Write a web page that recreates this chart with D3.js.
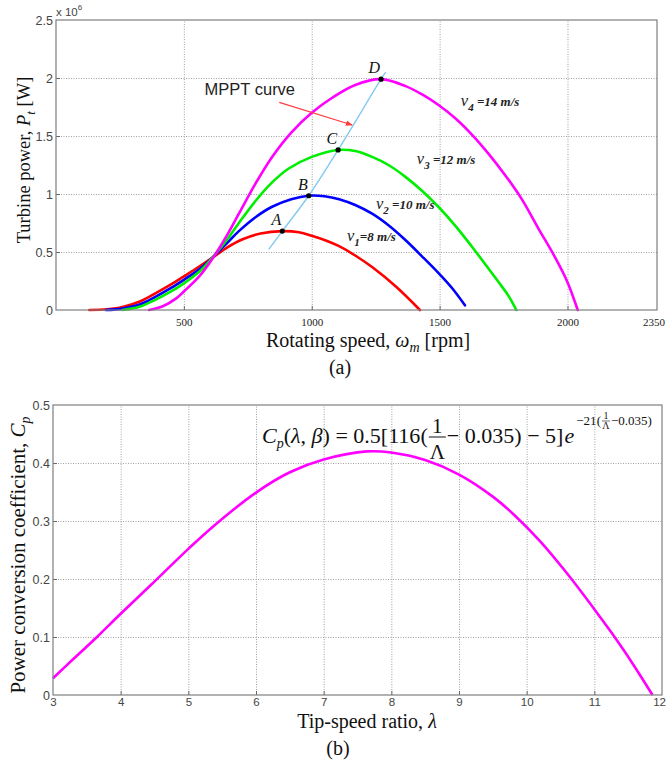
<!DOCTYPE html>
<html>
<head>
<meta charset="utf-8">
<script src="https://cdn.jsdelivr.net/npm/d3@7"></script>
<style>
  body { margin: 0; background: #fff; }
  svg { display: block; }
</style>
</head>
<body>
<script>
// ---------- (a) turbine power [x10^6 W] against rotating speed [rpm] ----------
const speedTicks = [500, 1000, 1500, 2000, 2350];
const powerTicks = [0, 0.5, 1, 1.5, 2, 2.5];

const curveV1 = [[130,0],[200,0.006],[260,0.025],[330,0.075],[390,0.145],[450,0.22],[500,0.29],[560,0.375],[611,0.45],[670,0.54],[730,0.61],[800,0.66],[885,0.68],[950,0.67],[1000,0.64],[1060,0.595],[1107,0.55],[1170,0.47],[1236,0.37],[1330,0.2],[1423,0]];
const curveV2 = [[195,0],[260,0.012],[330,0.05],[390,0.115],[450,0.19],[500,0.26],[560,0.35],[611,0.45],[670,0.58],[715,0.68],[780,0.80],[845,0.89],[920,0.955],[988,0.985],[1050,0.98],[1107,0.955],[1170,0.905],[1236,0.83],[1300,0.73],[1365,0.605],[1430,0.465],[1495,0.32],[1550,0.185],[1599,0.04]];
const curveV3 = [[260,0],[330,0.03],[390,0.09],[450,0.16],[500,0.23],[560,0.33],[611,0.45],[670,0.61],[715,0.75],[780,0.94],[845,1.1],[910,1.22],[1000,1.32],[1103,1.38],[1170,1.37],[1236,1.32],[1300,1.25],[1365,1.15],[1430,1.03],[1495,0.89],[1560,0.73],[1625,0.55],[1680,0.39],[1729,0.245],[1770,0.12],[1800,0]];
const curveV4 = [[364,0],[420,0.035],[470,0.1],[500,0.16],[560,0.29],[611,0.44],[670,0.65],[715,0.83],[780,1.09],[845,1.32],[920,1.53],[1000,1.70],[1080,1.83],[1170,1.94],[1271,1.99],[1367,1.93],[1430,1.86],[1497,1.765],[1560,1.655],[1627,1.51],[1690,1.35],[1757,1.16],[1820,0.96],[1887,0.70],[1950,0.46],[2000,0.24],[2040,0]];
const curveColors = ["#ff0000", "#0000ff", "#00ee00", "#ff00ff"];

// maximum-power operating points A..D and the MPPT trajectory through them
const peakNames = ["A", "B", "C", "D"];
const peakSpeeds = [885, 988, 1103, 1271];
const peakPowers = [0.68, 0.985, 1.38, 1.99];
const mpptCurve = [[832,0.523],[885,0.68],[988,0.985],[1103,1.38],[1271,1.99],[1289,2.05]];

// wind-speed labels: subscript index, value text, anchor (rpm, power)
const windSubs = ["1", "2", "3", "4"];
const windTexts = ["=8 m/s", " =10 m/s", " =12 m/s", " =14 m/s"];
const windLabelAt = [[1138,0.595],[1251,0.87],[1411,1.26],[1583,1.76]];

// MPPT annotation: text anchor and arrow (rpm, power)
const mpptTextAt = [581, 1.85];
const mpptArrow = [[873,1.79],[1158,1.595]];

// ---------- (b) power coefficient against tip-speed ratio ----------
const lambdaTicks = [3,4,5,6,7,8,9,10,11,12];
const cpTicks = [0, 0.1, 0.2, 0.3, 0.4, 0.5];
const lambdaVals = [3, 3.3, 3.65, 4, 4.45, 5, 5.38, 6, 6.5, 7, 7.64, 8, 8.5, 9, 9.5, 9.82, 10.2, 10.56, 11, 11.25, 11.55, 11.86];
const cpVals =     [0.029, 0.062, 0.1, 0.14, 0.19, 0.252, 0.292, 0.349, 0.384, 0.406, 0.42, 0.418, 0.405, 0.38, 0.342, 0.31, 0.265, 0.215, 0.148, 0.108, 0.057, 0];

const W = 666, H = 764;
const SERIF = "'Liberation Serif','Times New Roman',serif";
const SANS = "'Liberation Sans',Arial,sans-serif";
const GRID = "#a0a0a0", FRAME = "#7f7f7f";

const svg = d3.select("body").append("svg")
  .attr("width", W).attr("height", H)
  .attr("viewBox", `0 0 ${W} ${H}`);
svg.append("rect").attr("width", W).attr("height", H).attr("fill", "#fff");

function gridAndFrame(g, x, y, xGrid, yGrid) {
  const [x0, x1] = x.range(), [y0, y1] = y.range();
  g.append("g").attr("transform", `translate(0,${y0})`)
    .call(d3.axisBottom(x).tickValues(xGrid).tickSize(-(y0 - y1)).tickFormat(""))
    .call(s => s.select(".domain").remove())
    .selectAll("line").attr("stroke", GRID).attr("stroke-width", 1).attr("stroke-dasharray", "1,1.5");
  g.append("g").attr("transform", `translate(${x0},0)`)
    .call(d3.axisLeft(y).tickValues(yGrid).tickSize(-(x1 - x0)).tickFormat(""))
    .call(s => s.select(".domain").remove())
    .selectAll("line").attr("stroke", GRID).attr("stroke-width", 1).attr("stroke-dasharray", "1,1.5");
  // short inward ticks along bottom and left edges
  g.append("g").attr("transform", `translate(0,${y0})`)
    .call(d3.axisTop(x).tickValues(xGrid).tickSize(4).tickFormat(""))
    .call(s => s.select(".domain").remove())
    .selectAll("line").attr("stroke", "#666");
  g.append("g").attr("transform", `translate(${x0},0)`)
    .call(d3.axisRight(y).tickValues(yGrid).tickSize(4).tickFormat(""))
    .call(s => s.select(".domain").remove())
    .selectAll("line").attr("stroke", "#666");
}
function frame(g, x, y) {
  const [x0, x1] = x.range(), [y0, y1] = y.range();
  g.append("rect").attr("x", x0).attr("y", y1).attr("width", x1 - x0).attr("height", y0 - y1)
    .attr("fill", "none").attr("stroke", FRAME).attr("stroke-width", 1.2);
}
// keep the last tick label inside the page edge
function pinLastLabel(sel, edge) {
  const texts = sel.selectAll(".tick text").nodes();
  const last = texts[texts.length - 1];
  const tick = last.parentNode;
  const tx = +tick.getAttribute("transform").match(/translate\(([-\d.]+)/)[1];
  d3.select(last).attr("text-anchor", "end").attr("x", edge - tx);
}

// ================= panel (a) =================
const xA = d3.scaleLinear().domain([0, 2350]).range([56, 657]);
const yA = d3.scaleLinear().domain([0, 2.5]).range([310, 20]);
const gA = svg.append("g");
gridAndFrame(gA, xA, yA, [500, 1000, 1500, 2000], [0.5, 1, 1.5, 2]);

const lineA = d3.line().x(d => xA(d[0])).y(d => yA(d[1])).curve(d3.curveCatmullRom.alpha(0.5));
[curveV1, curveV2, curveV3, curveV4].forEach((c, i) => {
  gA.append("path").attr("d", lineA(c)).attr("fill", "none")
    .attr("stroke", curveColors[i]).attr("stroke-width", 2.6).attr("stroke-linecap", "round");
});
gA.append("path").attr("d", lineA(mpptCurve))
  .attr("fill", "none").attr("stroke", "#84c9ef").attr("stroke-width", 1.4);

frame(gA, xA, yA);

peakSpeeds.forEach((s, i) => {
  gA.append("circle").attr("cx", xA(s)).attr("cy", yA(peakPowers[i])).attr("r", 2.6).attr("fill", "#000");
  gA.append("text").attr("x", xA(s) - 1).attr("y", yA(peakPowers[i]) - 6)
    .attr("text-anchor", "end").attr("font-family", SERIF).attr("font-style", "italic")
    .attr("font-size", 16).attr("fill", "#111").text(peakNames[i]);
});

windSubs.forEach((sub, i) => {
  const t = gA.append("text").attr("x", xA(windLabelAt[i][0])).attr("y", yA(windLabelAt[i][1]))
    .attr("font-family", SERIF).attr("font-style", "italic").attr("font-weight", "bold").attr("fill", "#222")
    .attr("xml:space", "preserve");
  t.append("tspan").attr("font-size", 16.5).attr("font-weight", "normal").text("v");
  t.append("tspan").attr("font-size", 11).attr("dy", 5).text(sub);
  t.append("tspan").attr("font-size", 13).attr("dy", -5).text(windTexts[i]);
});

// MPPT annotation with arrow
const defs = svg.append("defs");
defs.append("marker").attr("id", "arrowHead").attr("viewBox", "0 0 10 10")
  .attr("refX", 9).attr("refY", 5).attr("markerWidth", 7).attr("markerHeight", 7)
  .attr("orient", "auto").attr("markerUnits", "userSpaceOnUse")
  .append("path").attr("d", "M0,1 L10,5 L0,9 Z").attr("fill", "#ff3b3b");
gA.append("line")
  .attr("x1", xA(mpptArrow[0][0])).attr("y1", yA(mpptArrow[0][1]))
  .attr("x2", xA(mpptArrow[1][0])).attr("y2", yA(mpptArrow[1][1]))
  .attr("stroke", "#ff3b3b").attr("stroke-width", 1.1).attr("marker-end", "url(#arrowHead)");
gA.append("text").attr("x", xA(mpptTextAt[0])).attr("y", yA(mpptTextAt[1]))
  .attr("font-family", SANS).attr("font-size", 16.5).attr("fill", "#222").text("MPPT curve");

// axes labels (a)
const axA = gA.append("g").attr("transform", "translate(0,310)")
  .call(d3.axisBottom(xA).tickValues(speedTicks).tickSize(0).tickPadding(8).tickFormat(d3.format("d")))
  .call(s => s.select(".domain").remove());
axA.selectAll("text").attr("font-family", SERIF).attr("font-size", 11).attr("fill", "#222");
pinLastLabel(axA, 665);
gA.append("g").attr("transform", "translate(56,0)")
  .call(d3.axisLeft(yA).tickValues(powerTicks).tickSize(0).tickPadding(3).tickFormat(d3.format("~g")))
  .call(s => s.select(".domain").remove())
  .selectAll("text").attr("font-family", SANS).attr("font-size", 12.5).attr("fill", "#444");
const expA = gA.append("text").attr("x", 56).attr("y", 16)
  .attr("font-family", SANS).attr("font-size", 11.5).attr("fill", "#444");
expA.append("tspan").text("x 10");
expA.append("tspan").attr("font-size", 8).attr("dy", -6).text("6");

const xtA = gA.append("text").attr("x", 368).attr("y", 347).attr("text-anchor", "middle")
  .attr("font-family", SERIF).attr("font-size", 20).attr("fill", "#111");
xtA.append("tspan").text("Rotating speed, ");
xtA.append("tspan").attr("font-style", "italic").text("ω");
xtA.append("tspan").attr("font-style", "italic").attr("font-size", 14).attr("dy", 5).text("m");
xtA.append("tspan").attr("dy", -5).text(" [rpm]");

const ytA = gA.append("text").attr("transform", "translate(30,160) rotate(-90)").attr("text-anchor", "middle")
  .attr("font-family", SERIF).attr("font-size", 18.5).attr("fill", "#111");
ytA.append("tspan").text("Turbine power, ");
ytA.append("tspan").attr("font-style", "italic").text("P");
ytA.append("tspan").attr("font-style", "italic").attr("font-size", 13).attr("dy", 5).text("t");
ytA.append("tspan").attr("dy", -5).text(" [W]");

gA.append("text").attr("x", 340).attr("y", 374).attr("text-anchor", "middle")
  .attr("font-family", SERIF).attr("font-size", 20).attr("fill", "#111").text("(a)");

// ================= panel (b) =================
const xB = d3.scaleLinear().domain([3, 12]).range([53, 662]);
const yB = d3.scaleLinear().domain([0, 0.5]).range([695, 405]);
const gB = svg.append("g");
gridAndFrame(gB, xB, yB, [4,5,6,7,8,9,10,11], [0.1, 0.2, 0.3, 0.4]);

const cpPoints = lambdaVals.map((l, i) => [l, cpVals[i]]);
gB.append("path")
  .attr("d", d3.line().x(d => xB(d[0])).y(d => yB(d[1])).curve(d3.curveCatmullRom.alpha(0.5))(cpPoints))
  .attr("fill", "none").attr("stroke", "#ff00ff").attr("stroke-width", 2.6);

frame(gB, xB, yB);

const axB = gB.append("g").attr("transform", "translate(0,695)")
  .call(d3.axisBottom(xB).tickValues(lambdaTicks).tickSize(0).tickPadding(3).tickFormat(d3.format("d")))
  .call(s => s.select(".domain").remove());
axB.selectAll("text").attr("font-family", SANS).attr("font-size", 11.5).attr("fill", "#444");
pinLastLabel(axB, 666);
gB.append("g").attr("transform", "translate(53,0)")
  .call(d3.axisLeft(yB).tickValues(cpTicks).tickSize(0).tickPadding(3).tickFormat(d => d === 0 ? "0" : d3.format(".1f")(d)))
  .call(s => s.select(".domain").remove())
  .selectAll("text").attr("font-family", SANS).attr("font-size", 12.5).attr("fill", "#444");

const xtB = gB.append("text").attr("x", 367).attr("y", 728).attr("text-anchor", "middle")
  .attr("font-family", SERIF).attr("font-size", 20).attr("fill", "#111");
xtB.append("tspan").text("Tip-speed ratio, ");
xtB.append("tspan").attr("font-style", "italic").text("λ");

const ytB = gB.append("text").attr("transform", "translate(25,555) rotate(-90)").attr("text-anchor", "middle")
  .attr("font-family", SERIF).attr("font-size", 21).attr("fill", "#111");
ytB.append("tspan").text("Power conversion coefficient, ");
ytB.append("tspan").attr("font-style", "italic").text("C");
ytB.append("tspan").attr("font-style", "italic").attr("font-size", 14).attr("dy", 5).text("p");

gB.append("text").attr("x", 338).attr("y", 755).attr("text-anchor", "middle")
  .attr("font-family", SERIF).attr("font-size", 20).attr("fill", "#111").text("(b)");

// Cp(λ, β) expression, laid out piece by piece
(function drawFormula() {
  const left = 262, width = 390, base = 443;
  const outer = gB.append("g").attr("transform", `translate(${left},0)`);
  const g = outer.append("g").attr("font-family", SERIF).attr("fill", "#111");
  let x = 0;
  const t1 = g.append("text").attr("x", x).attr("y", base).attr("font-size", 22);
  t1.append("tspan").attr("font-style", "italic").text("C");
  t1.append("tspan").attr("font-style", "italic").attr("font-size", 14).attr("dy", 5).text("p");
  t1.append("tspan").attr("dy", -5).text("(");
  t1.append("tspan").attr("font-style", "italic").text("λ");
  t1.append("tspan").text(", ");
  t1.append("tspan").attr("font-style", "italic").text("β");
  t1.append("tspan").text(") = 0.5[116(");
  x += t1.node().getComputedTextLength() + 1;
  // 1/Λ
  const fw = 17;
  g.append("text").attr("x", x + fw / 2).attr("y", base - 10).attr("text-anchor", "middle").attr("font-size", 21).text("1");
  g.append("line").attr("x1", x).attr("x2", x + fw).attr("y1", base - 6).attr("y2", base - 6).attr("stroke", "#111").attr("stroke-width", 1);
  g.append("text").attr("x", x + fw / 2).attr("y", base + 16).attr("text-anchor", "middle").attr("font-size", 21).text("Λ");
  x += fw + 1;
  const t2 = g.append("text").attr("x", x).attr("y", base).attr("font-size", 22).text("− 0.035) − 5]");
  x += t2.node().getComputedTextLength() + 1;
  const t3 = g.append("text").attr("x", x).attr("y", base).attr("font-size", 22).attr("font-style", "italic").text("e");
  x += t3.node().getComputedTextLength() + 2;
  // exponent −21(1/Λ − 0.035)
  const eb = base - 18;
  const t4 = g.append("text").attr("x", x).attr("y", eb).attr("font-size", 13).text("−21(");
  x += t4.node().getComputedTextLength() + 1;
  const sw = 8;
  g.append("text").attr("x", x + sw / 2).attr("y", eb - 6).attr("text-anchor", "middle").attr("font-size", 10).text("1");
  g.append("line").attr("x1", x).attr("x2", x + sw).attr("y1", eb - 4).attr("y2", eb - 4).attr("stroke", "#111").attr("stroke-width", 0.6);
  g.append("text").attr("x", x + sw / 2).attr("y", eb + 4).attr("text-anchor", "middle").attr("font-size", 10).text("Λ");
  x += sw + 1;
  const t5 = g.append("text").attr("x", x).attr("y", eb).attr("font-size", 13).text("−0.035)");
  x += t5.node().getComputedTextLength();
  g.attr("transform", `scale(${width / x},1)`);
})();
</script>
</body>
</html>
